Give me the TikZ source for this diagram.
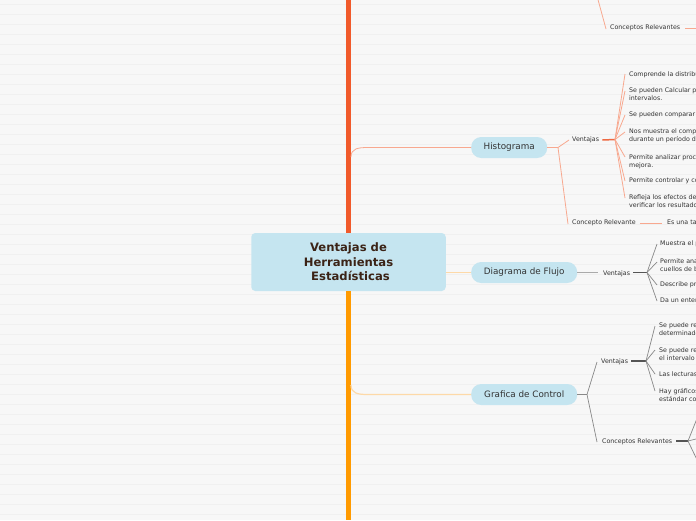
\documentclass[tikz,border=0pt]{standalone}
\usepackage{fontspec}
\setmainfont{DejaVu Sans}
\definecolor{bg}{HTML}{F7F7F7}
\definecolor{stripe}{HTML}{F0F0F0}
\definecolor{topicblue}{HTML}{C5E5F0}
\definecolor{titlec}{HTML}{3B2316}
\definecolor{txt}{HTML}{333333}
\definecolor{redl}{HTML}{F15A2B}
\definecolor{orangel}{HTML}{FF9A00}
\definecolor{salmon}{HTML}{F8A88F}
\definecolor{salmondk}{HTML}{EE6A43}
\definecolor{peach}{HTML}{FDD9A8}
\definecolor{grayl}{HTML}{AAAAAA}
\definecolor{graym}{HTML}{888888}
\definecolor{grayd}{HTML}{555555}
\tikzset{
  topicbox/.style={fill=topicblue, rounded corners=10pt, minimum height=21pt, inner sep=0pt,
    font=\fontsize{8.8}{10}\selectfont, text=txt, anchor=west},
  itemtext/.style={anchor=north west, inner sep=0pt, align=left,
    font=\fontsize{6.3}{7.8}\selectfont, text=txt},
  lbl/.style={anchor=west, inner sep=0pt, font=\fontsize{6.3}{8}\selectfont, text=txt},
  salm/.style={draw=salmon, line width=0.8pt},
  salmdk/.style={draw=salmondk, line width=1.5pt},
  fangray/.style={draw=graym, line width=0.7pt},
}
\begin{document}
\begin{tikzpicture}[x=1pt,y=-1pt]
\useasboundingbox (0,0) rectangle (696,520);
\clip (0,0) rectangle (696,520);
\fill[bg] (0,0) rectangle (696,520);
\foreach \k in {0,...,51} \draw[stripe, line width=1pt] (0,4+10*\k) -- (696,4+10*\k);

% central topic
\node[fill=topicblue, rounded corners=4pt, minimum width=194.5pt, minimum height=58pt, inner sep=0pt,
  font=\bfseries\fontsize{11.6}{14.5}\selectfont, text=titlec, align=center] (c) at (348.5,262)
  {Ventajas de\\Herramientas\\\hspace*{4pt}Estadísticas};
\draw[redl, line width=5pt] (c.north) -- (c.north |- 0,0);
\draw[orangel, line width=5pt] (c.south) -- (c.south |- 0,520);

% ---------- Histograma ----------
\coordinate (hj) at (351,157);
\node[topicbox, minimum width=76pt] (hist) at (471,147.5) {Histograma};
\draw[salm] (hj) .. controls (351,148.5) and (358,147.5) .. (368,147.5) -- (hist.west);
\coordinate (hs) at (558,147.5);
\draw[salm] (hist.east) -- (hs);
\node[lbl] (hv) at (572,140) {Ventajas};
\draw[salm] (hs) -- ([xshift=-3pt]hv.west);
\node[lbl] (hc) at (572,223) {Concepto Relevante};
\draw[salm] (hs) -- ([xshift=-4pt,yshift=-1pt]hc.west);
\coordinate (hh) at (615,139.5);
\draw[salmdk] ([xshift=3pt]hv.east) -- (hh);

\node[itemtext] (h1) at (629,71) {Comprende la distribución de los datos.};
\node[itemtext] (h2) at (629,88) {Se pueden Calcular porcentajes de frecuencia en los\\intervalos.};
\node[itemtext] (h3) at (629,112) {Se pueden comparar datos de diferentes procesos.};
\node[itemtext] (h4) at (629,129) {Nos muestra el comportamiento de un proceso\\durante un período de tiempo.};
\node[itemtext] (h5) at (629,154) {Permite analizar procesos y detectar áreas de\\mejora.};
\node[itemtext] (h6) at (629,178) {Permite controlar y comparar procesos.};
\node[itemtext] (h7) at (629,195) {Refleja los efectos de los cambios realizados y\\verificar los resultados.};
\foreach \n in {h1,h2,h3,h4,h5,h6,h7}
  \draw[salm] (hh) -- ([xshift=-4pt,yshift=-3pt]\n.north west);

\node[lbl] (hce) at (667,223) {Es una tabla de frecuencias representada gráficamente.};
\draw[salm] ([xshift=4pt]hc.east) -- ([xshift=-5pt]hce.west);

% top (branch from above)
\coordinate (tj) at (597,-4);
\node[lbl] (tc) at (610,28) {Conceptos Relevantes};
\draw[salm] (tj) -- ([xshift=-4pt,yshift=-1pt]tc.west);
\coordinate (tce) at (700,28);
\draw[salm] ([xshift=5pt]tc.east) -- (tce);

% ---------- Diagrama de Flujo ----------
\node[topicbox, minimum width=106pt] (flujo) at (471,272.5) {Diagrama de Flujo};
\draw[peach, line width=1.5pt] (c.east |- flujo.west) -- (flujo.west);
\node[lbl] (fv) at (603,273.5) {Ventajas};
\draw[grayl, line width=1.5pt] (flujo.east) -- ([xshift=-5pt,yshift=1pt]fv.west);
\coordinate (fh) at (647,272.5);
\draw[grayd, line width=1.5pt] ([xshift=3pt,yshift=1pt]fv.east) -- (fh);
\node[itemtext] (f1) at (660,241) {Muestra el proceso paso a paso.};
\node[itemtext] (f2) at (660,259) {Permite analizar y detectar\\cuellos de botella.};
\node[itemtext] (f3) at (660,282) {Describe procesos.};
\node[itemtext] (f4) at (660,298) {Da un entendimiento general del proceso.};
\foreach \n in {f1,f2,f3,f4}
  \draw[fangray] (fh) -- ([xshift=-3pt,yshift=-3pt]\n.north west);

% ---------- Grafica de Control ----------
\coordinate (gj) at (351,385);
\node[topicbox, minimum width=106pt] (gc) at (471,394.5) {Grafica de Control};
\draw[peach, line width=1.2pt] (gj) .. controls (351,393.5) and (358,394.5) .. (368,394.5) -- (gc.west);
\coordinate (gs) at (587,394.5);
\draw[graym, line width=1.5pt] (gc.east) -- (gs);
\node[lbl] (gv) at (601,362) {Ventajas};
\draw[graym, line width=0.7pt] (gs) -- ([xshift=-4pt]gv.west);
\node[lbl] (gcr) at (602,442) {Conceptos Relevantes};
\draw[graym, line width=0.7pt] (gs) -- ([xshift=-5pt]gcr.west);
\coordinate (gh) at (646,361);
\draw[grayd, line width=1.5pt] ([xshift=3pt,yshift=1pt]gv.east) -- (gh);
\node[itemtext] (g1) at (659,323) {Se puede realizar el control de un proceso\\determinado.};
\node[itemtext] (g2) at (659,347) {Se puede reconocer si un proceso está dentro de\\el intervalo de control.};
\node[itemtext] (g3) at (659,371) {Las lecturas son fáciles de interpretar.};
\node[itemtext] (g4) at (659,388) {Hay gráficos para cada tipo de dato con un\\estándar común.};
\foreach \n in {g1,g2,g3,g4}
  \draw[fangray] (gh) -- ([xshift=-4pt,yshift=-3pt]\n.north west);

\coordinate (gch) at (688,441);
\draw[grayd, line width=1.5pt] ([xshift=4pt,yshift=1pt]gcr.east) -- (gch);
\coordinate (gc1) at (700,411);
\coordinate (gc2) at (700,438);
\coordinate (gc3) at (700,466);
\foreach \n in {gc1,gc2,gc3}
  \draw[fangray] (gch) -- (\n);
\end{tikzpicture}
\end{document}
